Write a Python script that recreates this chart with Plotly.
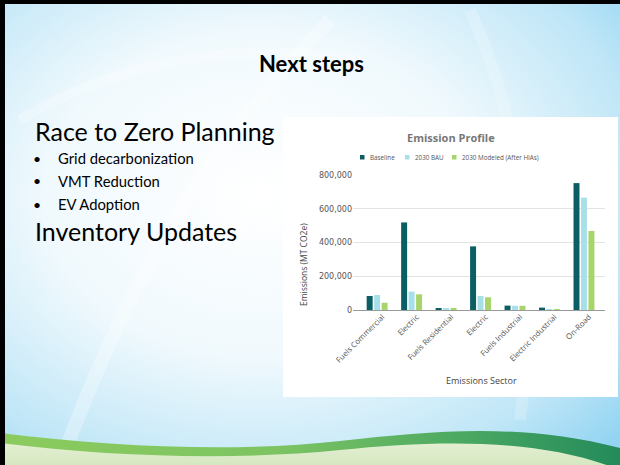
import base64
import plotly.graph_objects as go

# ---- data ----
sectors = ["Fuels Commercial", "Electric", "Fuels Residential", "Electric",
           "Fuels Industrial", "Electric Industrial", "On-Road"]
series_names = ["Baseline", "2030 BAU", "2030 Modeled (After HIAs)"]
baseline = [83000, 519000, 8000, 377000, 26000, 14000, 752000]
bau_2030 = [89000, 109000, 10000, 83000, 25000, 1500, 666000]
modeled_2030 = [43000, 93000, 8000, 75000, 25000, 1500, 468000]
y_ticks = [0, 200000, 400000, 600000, 800000]
bullets = ["Grid decarbonization", "VMT Reduction", "EV Adoption"]

colors = ["#0b5e63", "#a8e0e9", "#a7d56c"]

W, H = 620, 465


def px(x):
    return x / W


def py(y):
    return 1 - y / H


# ---- slide background (svg data uri) ----
svg = f'''<svg xmlns="http://www.w3.org/2000/svg" width="{W}" height="{H}" viewBox="0 0 {W} {H}" preserveAspectRatio="none">
<defs>
<radialGradient id="bg" cx="0.42" cy="0.42" r="0.78">
<stop offset="0" stop-color="#ffffff"/>
<stop offset="0.45" stop-color="#f0f9fd"/>
<stop offset="0.8" stop-color="#bfe6f7"/>
<stop offset="1" stop-color="#92d4f2"/>
</radialGradient>
<linearGradient id="band" x1="0" y1="0" x2="1" y2="0">
<stop offset="0" stop-color="#8ccb5e"/>
<stop offset="0.45" stop-color="#7cc462"/>
<stop offset="0.75" stop-color="#4aa862"/>
<stop offset="1" stop-color="#238a5a"/>
</linearGradient>
<linearGradient id="pale" x1="0" y1="0" x2="0" y2="1">
<stop offset="0" stop-color="#e3efd2"/>
<stop offset="1" stop-color="#d2e6bd"/>
</linearGradient>
</defs>
<rect width="{W}" height="{H}" fill="url(#bg)"/>
<path d="M60,465 C120,300 200,150 330,20" stroke="#ffffff" stroke-opacity="0.3" stroke-width="14" fill="none"/>
<path d="M20,120 C120,60 240,40 360,60" stroke="#ffffff" stroke-opacity="0.25" stroke-width="10" fill="none"/>
<path d="M470,10 C520,120 540,260 520,420" stroke="#ffffff" stroke-opacity="0.2" stroke-width="12" fill="none"/>
<path d="M0,433 C120,448 240,452 340,441 S520,423 620,448 L620,465 L0,465 Z" fill="url(#band)"/>
<path d="M0,443 C120,458 240,460 340,450 S540,438 620,470 L620,465 L0,465 Z" fill="url(#pale)"/>
<rect x="0" y="0" width="5" height="{H}" fill="#000"/>
<rect x="0" y="0" width="{W}" height="4" fill="#000"/>
</svg>'''
bg_uri = "data:image/svg+xml;base64," + base64.b64encode(svg.encode()).decode()

x_idx = list(range(len(sectors)))

fig = go.Figure()
for name, vals, col in zip(series_names, [baseline, bau_2030, modeled_2030], colors):
    fig.add_trace(go.Bar(x=x_idx, y=vals, name=name, marker_color=col,
                         marker_line_width=0, showlegend=False))

chart_font = "Open Sans"
tick_font = "DejaVu Sans"
slide_font = "Lato"

annotations = []


def note(x, y, text, size, color="#000", family=slide_font, xanchor="left", **kw):
    annotations.append(dict(x=px(x), y=py(y), xref="paper", yref="paper", text=text,
                            showarrow=False, xanchor=xanchor, yanchor="middle",
                            font=dict(family=family, size=size, color=color), **kw))


# slide texts
note(311, 63, "<b>Next steps</b>", 22, xanchor="center")
note(33, 131, "Race to Zero Planning", 25)
for i, b in enumerate(bullets):
    yy = 158 + i * 23
    note(31, yy, "•", 14)
    note(56, yy, b, 14.8)
note(33, 231, "Inventory Updates", 25)

# chart texts
note(451, 137, "<b>Emission Profile</b>", 11, color="#777", family=chart_font, xanchor="center")
note(303, 265, "Emissions (MT CO2e)", 8.5, color="#444", family=chart_font, xanchor="center",
     textangle=-90)
note(481, 380, "Emissions Sector", 9, color="#444", family=chart_font, xanchor="center")

# white chart card + manual legend
shapes = []
shapes.append(dict(type="rect", xref="paper", yref="paper",
                   x0=px(283), x1=px(618), y0=py(397), y1=py(117),
                   fillcolor="#ffffff", line=dict(width=0), layer="below"))
leg_x = [360, 405, 452]
for name, col, lx in zip(series_names, colors, leg_x):
    shapes.append(dict(type="rect", xref="paper", yref="paper",
                       x0=px(lx), x1=px(lx + 4.5), y0=py(159.5), y1=py(155),
                       fillcolor=col, line=dict(width=0)))
    note(lx + 8, 157.3, name, 6.3, color="#555", family=chart_font)

fig.update_layout(
    width=W, height=H,
    margin=dict(l=0, r=0, t=0, b=0, autoexpand=False),
    paper_bgcolor="#ffffff",
    plot_bgcolor="rgba(0,0,0,0)",
    barmode="group", bargap=0.35, bargroupgap=0.2,
    images=[dict(source=bg_uri, xref="paper", yref="paper", x=0, y=1,
                 sizex=1, sizey=1, xanchor="left", yanchor="top",
                 sizing="stretch", layer="below")],
    shapes=shapes,
    annotations=annotations,
    xaxis=dict(domain=[px(353), px(605)], range=[-0.7, 6.61], automargin=False,
               tickmode="array", tickvals=x_idx, ticktext=sectors,
               tickangle=-45, showgrid=False, zeroline=False,
               showline=False, ticks="", ticklabelshift=5,
               tickfont=dict(family=chart_font, size=7.8, color="#555")),
    yaxis=dict(domain=[py(310), py(175)], range=[0, 800000], automargin=False,
               tickmode="array", tickvals=y_ticks, tickformat=",",
               showgrid=True, gridcolor="#e3e3e3", gridwidth=1,
               zeroline=True, zerolinecolor="#9a9a9a", zerolinewidth=1,
               showline=False, ticks="",
               tickfont=dict(family=tick_font, size=8, color="#555")),
)

fig.write_html("out.html", config={"displayModeBar": False},
               post_script="document.body.style.margin='0px';")
